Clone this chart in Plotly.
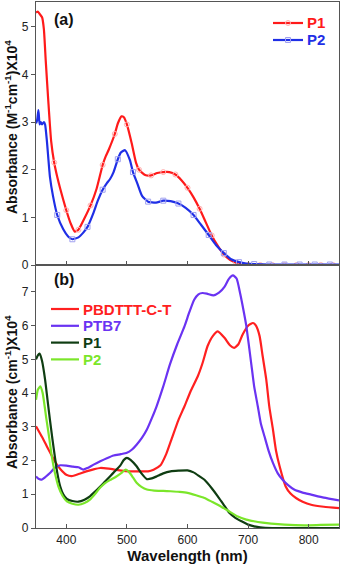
import plotly.graph_objects as go

# ---------------- Panel (a) data ----------------
a_p1_wl = [350, 353, 356, 360, 363, 366, 370, 375, 380, 385, 390, 400, 407, 414, 420, 430, 440, 450,
           460, 465, 470, 480, 485, 491, 495, 500, 508, 515, 520, 530, 540, 550, 560, 570, 580, 590,
           600, 610, 620, 630, 640, 650, 660, 670, 680, 690, 700, 720, 740, 760, 780, 800, 820, 840, 850]
a_p1_abs = [5.30, 5.32, 5.27, 5.20, 4.95, 4.30, 3.50, 2.60, 2.15, 1.85, 1.60, 1.15, 0.88, 0.70, 0.74,
            0.98, 1.25, 1.60, 2.10, 2.28, 2.42, 2.75, 2.97, 3.12, 3.10, 2.95, 2.55, 2.15, 2.00, 1.89,
            1.88, 1.93, 1.95, 1.95, 1.90, 1.78, 1.62, 1.42, 1.18, 0.90, 0.62, 0.40, 0.22, 0.11, 0.05,
            0.02, 0.00, 0.00, 0.00, 0.00, 0.00, 0.00, 0.00, 0.00, 0.00]
a_p1_marker_wl = [380, 400, 420, 440, 460, 480, 500, 520, 540, 560, 580, 600, 620, 640, 660, 680,
                  700, 720, 740, 760, 780, 800, 820, 840]

a_p2_wl = [350, 352, 354, 356, 358, 360, 363, 365, 368, 373, 378, 385, 395, 403, 410, 420, 428, 435,
           445, 452, 460, 467, 472, 478, 485, 490, 497, 505, 510, 517, 525, 535, 548, 560, 572, 585,
           597, 610, 622, 635, 647, 660, 672, 685, 697, 710, 735, 760, 785, 810, 835, 850]
a_p2_abs = [2.97, 3.05, 3.25, 2.95, 3.00, 2.95, 3.00, 2.95, 2.60, 1.85, 1.45, 1.05, 0.75, 0.60, 0.54,
            0.58, 0.68, 0.80, 1.10, 1.35, 1.58, 1.72, 1.80, 1.95, 2.22, 2.36, 2.41, 2.20, 1.95, 1.72,
            1.45, 1.33, 1.31, 1.35, 1.34, 1.29, 1.20, 1.05, 0.85, 0.63, 0.42, 0.25, 0.12, 0.06, 0.03,
            0.02, 0.01, 0.01, 0.01, 0.01, 0.01, 0.01]
a_p2_marker_wl = [385, 410, 435, 460, 485, 510, 535, 560, 585, 610, 635, 660, 685, 710, 735, 760,
                  785, 810, 835]

# ---------------- Panel (b) data ----------------
b_pbdttt_wl = [350, 360, 368, 375, 381, 390, 400, 409, 420, 433, 445, 456, 470, 488, 505, 522, 535,
               544, 555, 565, 573, 585, 595, 605, 617, 625, 633, 642, 650, 661, 670, 677, 684, 691,
               700, 708, 713, 719, 724, 730, 735, 741, 746, 752, 762, 770, 779, 790, 804, 825, 850]
b_pbdttt_abs = [3.02, 2.70, 2.42, 2.18, 1.98, 1.75, 1.58, 1.54, 1.60, 1.68, 1.74, 1.78, 1.76, 1.71,
                1.68, 1.68, 1.68, 1.73, 1.85, 2.20, 2.60, 3.20, 3.61, 4.05, 4.50, 4.90, 5.39, 5.70,
                5.83, 5.64, 5.42, 5.34, 5.45, 5.74, 6.00, 6.08, 6.00, 5.69, 5.10, 4.40, 3.60, 2.92,
                2.30, 1.83, 1.23, 1.02, 0.89, 0.78, 0.69, 0.63, 0.59]

b_ptb7_wl = [350, 355, 360, 366, 373, 381, 390, 400, 411, 420, 428, 435, 445, 456, 467, 478, 490,
             500, 508, 516, 525, 533, 541, 549, 560, 571, 583, 595, 603, 611, 618, 625, 632, 643,
             652, 661, 668, 675, 681, 687, 693, 697, 705, 710, 716, 721, 727, 734, 741, 749, 757,
             766, 776, 790, 804, 825, 850]
b_ptb7_abs = [1.53, 1.45, 1.44, 1.52, 1.63, 1.78, 1.86, 1.85, 1.82, 1.80, 1.73, 1.78, 1.88, 1.98,
              2.07, 2.15, 2.19, 2.23, 2.32, 2.47, 2.68, 2.92, 3.25, 3.61, 4.20, 4.85, 5.45, 5.98,
              6.40, 6.77, 6.93, 6.97, 6.95, 6.90, 6.98, 7.15, 7.38, 7.49, 7.40, 6.95, 6.40, 6.00,
              4.90, 4.20, 3.61, 3.10, 2.72, 2.28, 1.93, 1.62, 1.43, 1.27, 1.14, 1.05, 0.99, 0.90, 0.82]

b_p1_wl = [350, 353, 356, 360, 365, 369, 373, 377, 381, 385, 390, 395, 401, 410, 420, 430, 439, 447,
           456, 464, 472, 480, 489, 495, 500, 506, 516, 524, 533, 541, 549, 560, 572, 585, 600, 610,
           620, 628, 640, 650, 660, 669, 679, 689, 700, 710, 720, 740, 800, 850]
b_p1_abs = [5.00, 5.12, 5.17, 4.95, 4.40, 3.80, 3.21, 2.65, 2.13, 1.65, 1.23, 1.00, 0.86, 0.80, 0.78,
            0.84, 0.94, 1.07, 1.23, 1.38, 1.53, 1.68, 1.85, 2.02, 2.08, 2.02, 1.83, 1.62, 1.45, 1.47,
            1.53, 1.62, 1.68, 1.70, 1.71, 1.65, 1.53, 1.43, 1.18, 0.94, 0.68, 0.45, 0.30, 0.20, 0.10,
            0.05, 0.02, 0.00, 0.00, 0.00]

b_p2_wl = [350, 353, 357, 361, 367, 372, 376, 381, 387, 394, 401, 410, 420, 430, 439, 447, 456, 464,
           472, 482, 490, 498, 504, 510, 516, 524, 533, 545, 560, 572, 587, 600, 614, 628, 641, 655,
           669, 683, 697, 710, 724, 738, 760, 793, 820, 850]
b_p2_abs = [3.80, 4.10, 4.20, 4.00, 3.25, 2.65, 2.13, 1.65, 1.23, 0.95, 0.79, 0.72, 0.69, 0.74, 0.84,
            1.00, 1.20, 1.33, 1.42, 1.52, 1.62, 1.73, 1.65, 1.50, 1.34, 1.22, 1.14, 1.11, 1.10, 1.09,
            1.07, 1.04, 0.97, 0.89, 0.77, 0.64, 0.49, 0.34, 0.25, 0.20, 0.16, 0.13, 0.10, 0.08, 0.09,
            0.10]

x_ticks = [400, 500, 600, 700, 800]
ya_ticks = [0, 1, 2, 3, 4, 5]
yb_ticks = [0, 1, 2, 3, 4, 5, 6, 7]

legend_a_names = ["P1", "P2"]
legend_b_names = ["PBDTTT-C-T", "PTB7", "P1", "P2"]

RED = "#ff1a1a"
BLUE = "#1f2fe6"
RED_MK = "#ffb0b0"
BLUE_MK = "#a0a0f0"
C_PBD = "#ff2020"
C_PTB7 = "#6a33f2"
C_P1 = "#0f3d12"
C_P2 = "#7be62a"
FONT = "Arial, Liberation Sans, sans-serif"
LW = 2.2

# figure geometry (pixels)
W, H = 342, 565
ML, MR, MT, MB = 36, 3, 2, 37
PW, PH = W - ML - MR, H - MT - MB


def px2x(px):
    return (px - ML) / PW


def py2y(py):
    return (H - MB - py) / PH


fig = go.Figure()


def pick(wl, vals, marks):
    return marks, [vals[wl.index(w)] for w in marks]


# ----- panel (a) -----
fig.add_trace(go.Scatter(x=a_p1_wl, y=a_p1_abs, mode="lines", name="P1",
                         line=dict(color=RED, width=LW, shape="spline", smoothing=0.5),
                         xaxis="x", yaxis="y", showlegend=False))
mx, my = pick(a_p1_wl, a_p1_abs, a_p1_marker_wl)
fig.add_trace(go.Scatter(x=mx, y=my, mode="markers",
                         marker=dict(symbol="circle-open", size=5, color=RED_MK, line=dict(width=1, color=RED_MK)),
                         xaxis="x", yaxis="y", showlegend=False))
fig.add_trace(go.Scatter(x=a_p2_wl, y=a_p2_abs, mode="lines", name="P2",
                         line=dict(color=BLUE, width=LW, shape="spline", smoothing=0.5),
                         xaxis="x", yaxis="y", showlegend=False))
mx, my = pick(a_p2_wl, a_p2_abs, a_p2_marker_wl)
fig.add_trace(go.Scatter(x=mx, y=my, mode="markers",
                         marker=dict(symbol="square-open", size=5, color=BLUE_MK, line=dict(width=1, color=BLUE_MK)),
                         xaxis="x", yaxis="y", showlegend=False))

# ----- panel (b) -----
b_series = [(b_pbdttt_wl, b_pbdttt_abs, C_PBD), (b_ptb7_wl, b_ptb7_abs, C_PTB7),
            (b_p1_wl, b_p1_abs, C_P1), (b_p2_wl, b_p2_abs, C_P2)]
for (wl, ab, col), nm in zip(b_series, legend_b_names):
    fig.add_trace(go.Scatter(x=wl, y=ab, mode="lines", name=nm,
                             line=dict(color=col, width=LW, shape="spline", smoothing=0.5),
                             xaxis="x2", yaxis="y2", showlegend=False))

# ----- hand-placed legends (rows closer than plotly's legend allows) -----
shapes = []
annotations = []
# legend (a)
a_cols = [(RED, RED_MK, "circle"), (BLUE, BLUE_MK, "rect")]
for i, (nm, (col, mk, sym)) in enumerate(zip(legend_a_names, a_cols)):
    py = 23 + i * 17
    shapes.append(dict(type="line", xref="paper", yref="paper", x0=px2x(273), x1=px2x(303),
                       y0=py2y(py), y1=py2y(py), line=dict(color=col, width=LW)))
    shapes.append(dict(type=sym, xref="paper", yref="paper", xsizemode="pixel", ysizemode="pixel",
                       xanchor=px2x(288), yanchor=py2y(py), x0=-2.5, x1=2.5, y0=-2.5, y1=2.5,
                       line=dict(color=mk, width=1), fillcolor="rgba(0,0,0,0)"))
    annotations.append(dict(text=f"<b>{nm}</b>", x=px2x(305), y=py2y(py), xref="paper", yref="paper",
                            xanchor="left", yanchor="middle", showarrow=False,
                            font=dict(family=FONT, size=15, color=col)))
# legend (b)
for i, (nm, (_, _, col)) in enumerate(zip(legend_b_names, b_series)):
    py = 309 + i * 16.8
    shapes.append(dict(type="line", xref="paper", yref="paper", x0=px2x(51), x1=px2x(79),
                       y0=py2y(py), y1=py2y(py), line=dict(color=col, width=LW)))
    annotations.append(dict(text=f"<b>{nm}</b>", x=px2x(81), y=py2y(py), xref="paper", yref="paper",
                            xanchor="left", yanchor="middle", showarrow=False,
                            font=dict(family=FONT, size=15, color=col)))

annotations += [
    dict(text="<b>(a)</b>", x=px2x(52), y=py2y(20), xref="paper", yref="paper", xanchor="left", yanchor="middle",
         showarrow=False, font=dict(family=FONT, size=16, color="#111111")),
    dict(text="<b>(b)</b>", x=px2x(52), y=py2y(279), xref="paper", yref="paper", xanchor="left", yanchor="middle",
         showarrow=False, font=dict(family=FONT, size=16, color="#111111")),
    # y-axis titles
    dict(text="<b>Absorbance (M<sup>-1</sup>cm<sup>-1</sup>)X10<sup>4</sup></b>", textangle=-90,
         x=px2x(11), y=py2y(127), xref="paper", yref="paper", xanchor="center", yanchor="middle",
         showarrow=False, font=dict(family=FONT, size=14, color="#111111")),
    dict(text="<b>Absorbance (cm<sup>-1</sup>)X10<sup>4</sup></b>", textangle=-90,
         x=px2x(11), y=py2y(392), xref="paper", yref="paper", xanchor="center", yanchor="middle",
         showarrow=False, font=dict(family=FONT, size=14, color="#111111")),
]

axis_common = dict(showline=True, linecolor="#555555", linewidth=1.3, mirror=True, showgrid=False, zeroline=False,
                   automargin=False, tickfont=dict(family=FONT, size=12, color="#222222"))

fig.update_layout(
    width=W, height=H,
    margin=dict(l=ML, r=MR, t=MT, b=MB, autoexpand=False),
    paper_bgcolor="white", plot_bgcolor="white",
    font=dict(family=FONT, color="#111111"),
    showlegend=False,
    xaxis=dict(domain=[0, 1], anchor="y", range=[350, 850], tickvals=x_ticks, ticks="inside", ticklen=4,
               tickcolor="#555555", showticklabels=False, **axis_common),
    yaxis=dict(domain=[0.5, 1], anchor="x", range=[0, 5.52], tickvals=ya_ticks, ticks="outside", ticklen=4,
               tickcolor="#555555", **axis_common),
    xaxis2=dict(domain=[0, 1], anchor="y2", range=[350, 850], tickvals=x_ticks, ticks="inside", ticklen=4,
                tickcolor="#555555",
                title=dict(text="<b>Wavelength (nm)</b>", font=dict(family=FONT, size=15, color="#111111"), standoff=2),
                **axis_common),
    yaxis2=dict(domain=[0, 0.5], anchor="x2", range=[0, 7.8], tickvals=yb_ticks, ticks="outside", ticklen=4,
                tickcolor="#555555", **axis_common),
    shapes=shapes,
    annotations=annotations,
)

fig.write_html("out.html", config={"displayModeBar": False},
               post_script="document.body.style.margin='0';document.body.style.padding='0';")
